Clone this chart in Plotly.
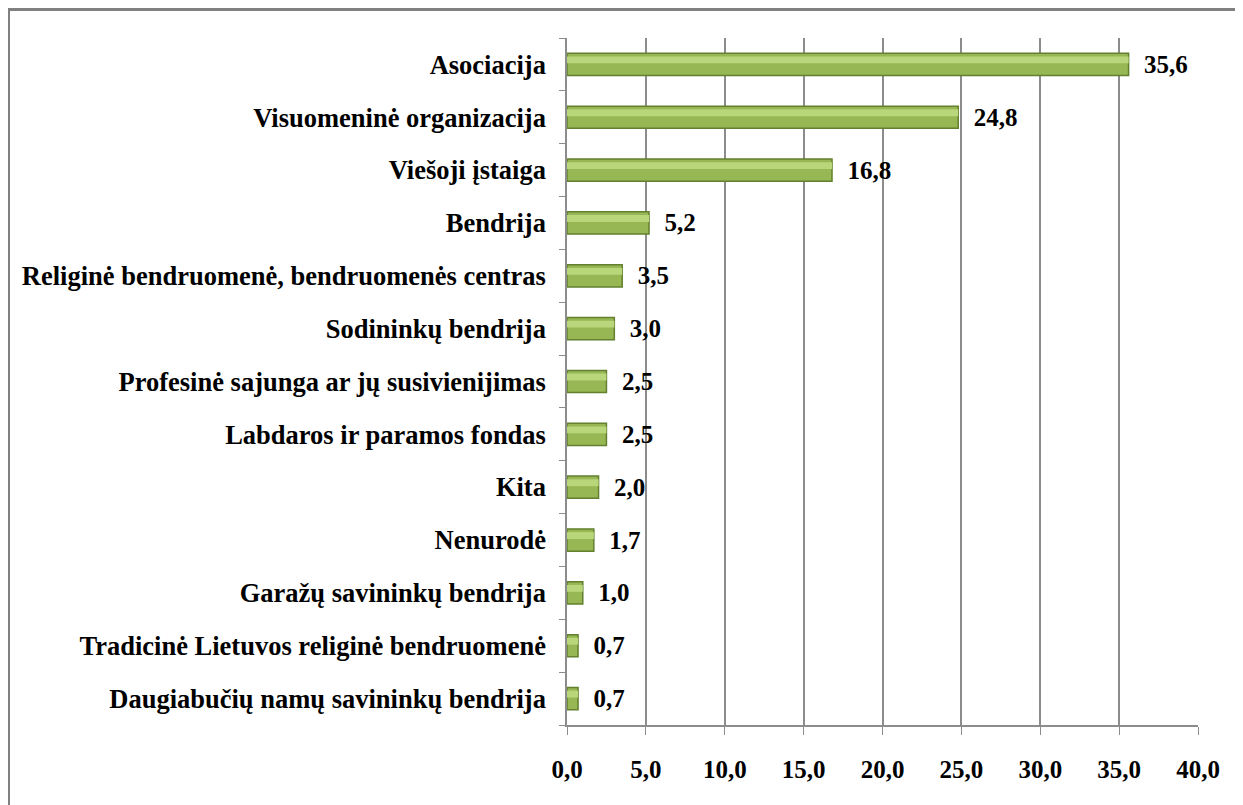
import plotly.graph_objects as go

categories = [
    "Asociacija",
    "Visuomeninė organizacija",
    "Viešoji įstaiga",
    "Bendrija",
    "Religinė bendruomenė, bendruomenės centras",
    "Sodininkų bendrija",
    "Profesinė sajunga ar jų susivienijimas",
    "Labdaros ir paramos fondas",
    "Kita",
    "Nenurodė",
    "Garažų savininkų bendrija",
    "Tradicinė Lietuvos religinė bendruomenė",
    "Daugiabučių namų savininkų bendrija",
]
values = [35.6, 24.8, 16.8, 5.2, 3.5, 3.0, 2.5, 2.5, 2.0, 1.7, 1.0, 0.7, 0.7]
x_ticks = [0, 5, 10, 15, 20, 25, 30, 35, 40]

# page has an 8px body margin; work in page pixels and convert
OFF = 8
W, H = 1243 - OFF, 805 - OFF
ml, mr, mt, mb = 567 - OFF, 45, 38 - OFF, 80
pw, ph = W - ml - mr, H - mt - mb

font_family = "Liberation Serif"

labels = ["  " + f"{v:.1f}".replace(".", ",") for v in values]

fig = go.Figure()
# main bar body
fig.add_trace(go.Bar(
    y=categories,
    x=values,
    orientation="h",
    marker=dict(color="#97B754", line=dict(color="#62802E", width=1.5)),
    text=labels,
    textposition="outside",
    constraintext="none",
    textfont=dict(family=font_family, size=25, color="black", weight="bold"),
    cliponaxis=False,
    width=0.42,
    offset=-0.21,
    hoverinfo="skip",
))
# light highlight band on the upper part of each bar (gradient look)
fig.add_trace(go.Bar(
    y=categories,
    x=values,
    orientation="h",
    marker=dict(color="#B9D67A", line=dict(width=0)),
    width=0.13,
    offset=0.02,
    hoverinfo="skip",
))

def px_x(p):
    return (p - OFF - ml) / pw

def px_y(p):
    return 1 - (p - OFF - mt) / ph

gray = "#808080"
fig.add_shape(type="line", xref="paper", yref="paper",
              x0=px_x(8), x1=px_x(1260), y0=px_y(9.5), y1=px_y(9.5),
              line=dict(color=gray, width=3))
fig.add_shape(type="line", xref="paper", yref="paper",
              x0=px_x(8.5), x1=px_x(8.5), y0=px_y(8), y1=px_y(820),
              line=dict(color=gray, width=3))

fig.update_layout(
    width=W, height=H,
    margin=dict(l=ml, r=mr, t=mt, b=mb),
    paper_bgcolor="white",
    plot_bgcolor="white",
    showlegend=False,
    barmode="overlay",
    separators=", ",
    font=dict(family=font_family, size=25, color="black"),
    xaxis=dict(
        range=[0, 40],
        tickvals=x_ticks,
        tickformat=".1f",
        showgrid=True,
        gridcolor="#8C8C8C",
        gridwidth=1.5,
        zeroline=False,
        showline=True,
        linecolor="#8C8C8C",
        linewidth=1.5,
        ticks="outside",
        ticklen=8,
        tickcolor="#8C8C8C",
        ticklabelstandoff=13,
        tickfont=dict(family=font_family, size=25, color="black", weight="bold"),
        fixedrange=True,
    ),
    yaxis=dict(
        categoryorder="array",
        categoryarray=categories[::-1],
        autorange=False,
        range=[-0.5, len(categories) - 0.5],
        showline=True,
        linecolor="#8C8C8C",
        linewidth=1.5,
        ticks="outside",
        tickson="boundaries",
        ticklen=6,
        tickcolor="#8C8C8C",
        ticklabelstandoff=14,
        tickfont=dict(family=font_family, size=26.5, color="black", weight="bold"),
        showgrid=False,
        fixedrange=True,
    ),
)

fig.write_html("out.html")
